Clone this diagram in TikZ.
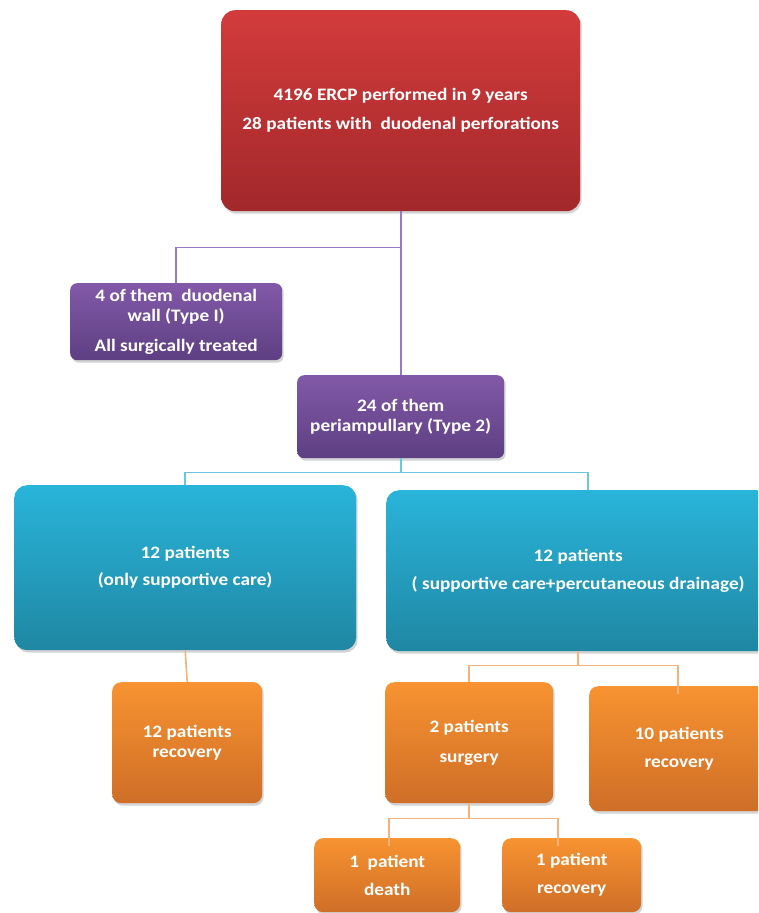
\documentclass[tikz,border=0pt]{standalone}
\usepackage{fontspec}
\setmainfont{Carlito}[FakeStretch=1.1]
\usetikzlibrary{shadows}
\definecolor{redT}{HTML}{D33B3B}
\definecolor{redB}{HTML}{A2282B}
\definecolor{purT}{HTML}{8259A8}
\definecolor{purB}{HTML}{5E3F82}
\definecolor{tealT}{HTML}{29B4DA}
\definecolor{tealB}{HTML}{1F87A3}
\definecolor{orT}{HTML}{F79331}
\definecolor{orB}{HTML}{CF6E27}
\definecolor{purL}{HTML}{9579C2}
\definecolor{tealL}{HTML}{6CC6E0}
\definecolor{orL}{HTML}{F7B27C}
\tikzset{
  box/.style={rounded corners=10pt, anchor=north west, text=white, align=center,
    font=\bfseries\fontsize{17.5}{20}\selectfont, inner sep=0pt,
    drop shadow={opacity=0.35, shadow xshift=1.5pt, shadow yshift=-2.5pt}},
  redbox/.style={box, top color=redT, bottom color=redB, rounded corners=14pt},
  purbox/.style={box, top color=purT, bottom color=purB, rounded corners=7pt},
  tealbox/.style={box, top color=tealT, bottom color=tealB, rounded corners=13pt},
  orbox/.style={box, top color=orT, bottom color=orB, rounded corners=9pt},
  pline/.style={draw=purL, line width=1.6pt},
  tline/.style={draw=tealL, line width=1.6pt},
  oline/.style={draw=orL, line width=1.6pt},
}
\begin{document}
\begin{tikzpicture}[x=1pt,y=-1pt]
\useasboundingbox (0,0) rectangle (758,913);
\clip (0,0) rectangle (758,913);
% nodes
\node[redbox, minimum width=359pt, minimum height=201pt, font=\bfseries\fontsize{17.5}{29}\selectfont] (top) at (221,10)
  {4196 ERCP performed in 9 years\\28 patients with\ \ duodenal perforations};
\node[purbox, minimum width=212pt, minimum height=77pt] (p1) at (70,283)
  {4 of them\ \ duodenal\\wall (Type I)\\[10pt]All surgically treated};
\node[purbox, minimum width=207pt, minimum height=83pt] (p2) at (297,375)
  {24 of them\\periampullary (Type 2)};
\node[tealbox, minimum width=342pt, minimum height=165pt, font=\bfseries\fontsize{17.5}{27}\selectfont] (t1) at (14,485)
  {12 patients\\(only supportive care)};
\node[tealbox, minimum width=384pt, minimum height=161pt, font=\bfseries\fontsize{17.5}{28}\selectfont] (t2) at (386,490)
  {12 patients\\( supportive care+percutaneous drainage)};
\node[orbox, minimum width=150pt, minimum height=121pt] (o1) at (112,682)
  {12 patients\\recovery};
\node[orbox, minimum width=168pt, minimum height=121pt, font=\bfseries\fontsize{17.5}{30}\selectfont] (o2) at (385,682)
  {2 patients\\surgery};
\node[orbox, minimum width=180pt, minimum height=125pt, font=\bfseries\fontsize{17.5}{28}\selectfont] (o3) at (589,686)
  {10 patients\\recovery};
\node[orbox, minimum width=146pt, minimum height=74pt, font=\bfseries\fontsize{17.5}{28}\selectfont] (d1) at (314,838)
  {1\ \ patient\\death};
\node[orbox, minimum width=139pt, minimum height=74pt, font=\bfseries\fontsize{17.5}{28}\selectfont] (d2) at (502,838)
  {1 patient\\recovery};
% connectors
\draw[pline] (top.south) -- ++(0,36) -| (p1.north);
\draw[pline] (top.south) -- (top.south |- p2.north);
\draw[tline] (p2.south) -- ++(0,14) -| (t1.north);
\draw[tline] (p2.south) -- ++(0,14) -| ([xshift=10pt]t2.north);
\draw[oline] (t1.south) -- (o1.north);
\draw[oline] (t2.south) -- ++(0,14) -| (o2.north);
\draw[oline] (t2.south) -- ++(0,14) -| ([xshift=-1pt,yshift=-8pt]o3.north);
\draw[oline] (o2.south) -- ++(0,15) -| ([xshift=2pt,yshift=-8pt]d1.north);
\draw[oline] (o2.south) -- ++(0,15) -| ([xshift=-14pt,yshift=-8pt]d2.north);
\end{tikzpicture}
\end{document}
